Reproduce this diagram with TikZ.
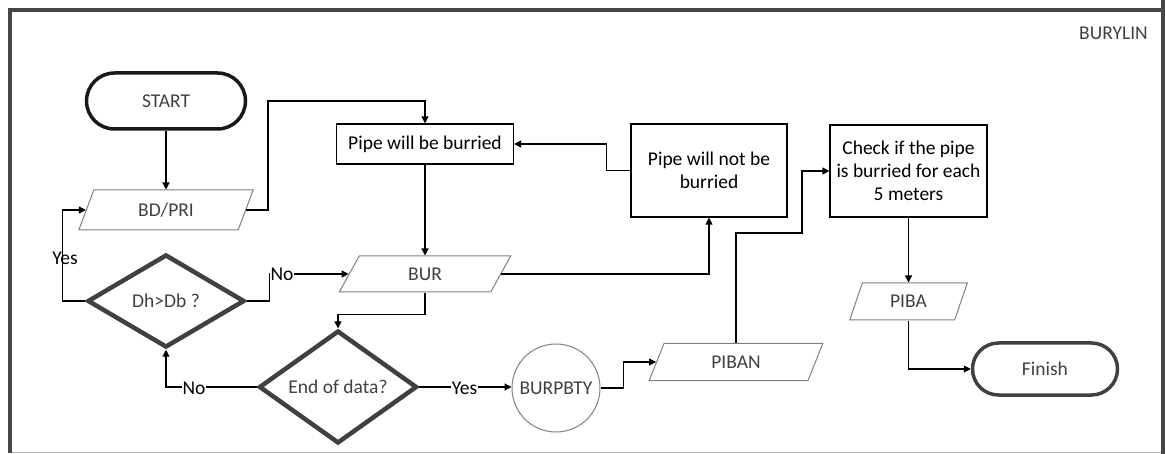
\documentclass[tikz,border=0pt]{standalone}
\usepackage{fontspec}
\setmainfont{Carlito}
\usetikzlibrary{shapes.geometric,arrows.meta}
\definecolor{dk}{HTML}{404040}
\definecolor{mg}{HTML}{808080}
\definecolor{fr}{HTML}{474747}
\tikzset{
  base/.style={font=\fontsize{19.5}{23}\selectfont, inner sep=0pt},
  term/.style={base, draw=dk, line width=3.5pt, rectangle, text=dk},
  io/.style={base, draw=mg, line width=1pt, trapezium, trapezium left angle=68, trapezium right angle=112, trapezium stretches=true, text=dk},
  proc/.style={base, draw=black, line width=1.2pt, rectangle, align=center},
  dec/.style={base, draw=dk, line width=4.5pt, diamond, text=dk},
  conn/.style={base, draw=mg, line width=1pt, circle, text=dk},
  arr/.style={draw=black, line width=1.2pt, -{Triangle[length=7pt,width=7pt]}},
  lbl/.style={base, text=black},
}
\begin{document}
\begin{tikzpicture}[x=1pt,y=-1pt]
\useasboundingbox (0,0) rectangle (1165,454);
% frame
\draw[mg!60, line width=1.2pt] (10,452.5) -- (1162,452.5);
\draw[fr, line width=4pt] (10,452.5) -- (10,10) -- (1162,10);
\draw[fr, line width=4pt] (1162.5,0) -- (1162.5,454);
\node[lbl, text=dk, anchor=east] (title) at (1148,33) {BURYLIN};

% nodes
\node[term, draw=black!90, minimum width=159pt, minimum height=56pt, rounded corners=28pt] (start) at (166,101) {START};
\node[io, minimum width=175pt, minimum height=40pt] (bdpri) at (166,210) {BD/PRI};
\node[dec, minimum width=157pt, minimum height=93pt] (dh) at (166,301) {Dh>Db ?};
\node[proc, minimum width=177pt, minimum height=40pt] (pwb) at (425,144) {Pipe will be burried};
\node[io, minimum width=172pt, minimum height=36pt] (bur) at (425,274) {BUR};
\node[proc, minimum width=156pt, minimum height=93pt] (pwnb) at (709,170.5) {Pipe will not be\\burried};
\node[dec, minimum width=158pt, minimum height=95pt] (eod) at (338,387) {End of data?};
\node[conn, minimum size=88pt] (burp) at (556,388) {BURPBTY};
\node[io, minimum width=174pt, minimum height=37pt] (piban) at (736,362) {PIBAN};
\node[proc, minimum width=157pt, minimum height=92pt] (check) at (908.5,171) {Check if the pipe\\is burried for each\\5 meters};
\node[io, minimum width=118pt, minimum height=37pt] (piba) at (908.5,301.5) {PIBA};
\node[term, minimum width=145pt, minimum height=52pt, rounded corners=26pt] (finish) at (1045,369) {Finish};

% connectors
\draw[arr] (start) -- (bdpri);
\coordinate (c1) at (268,101);
\draw[arr] (bdpri.east) -| (c1) -| (pwb.north);
\draw[arr] (dh.east) -- ++(23,0) |- (bur.west);
\node[lbl, fill=white, inner sep=1pt] (no1) at (282,274) {No};
\draw[arr] (dh.west) -- ++(-23,0) |- (bdpri.west);
\node[lbl] (yes1) at (65,258) {Yes};
\draw[arr] (pwb.south) -- (pwb.south |- bur.north);
\draw[arr] (pwnb.west) -- ++(-24,0) |- (pwb.east);
\draw[arr] (bur.east) -| (pwnb.south);
\draw[arr] (bur.south) -- ++(0,22) -| (eod.north);
\draw[arr] (eod.west) -| (dh.south);
\node[lbl, fill=white, inner sep=1pt] (no2) at (194,388) {No};
\draw[arr] (eod.east) -- (eod.east -| burp.west);
\node[lbl, fill=white, inner sep=1pt] (yes2) at (464.5,388) {Yes};
\draw[arr] (burp.east) -- ++(23,0) |- (piban.west);
\coordinate (c3) at (802,233);
\draw[arr] (piban.north) |- (c3) |- (check.west);
\draw[arr] (check.south) -- (check.south |- piba.north);
\draw[arr] (piba.south) |- (finish.west);
\end{tikzpicture}
\end{document}
